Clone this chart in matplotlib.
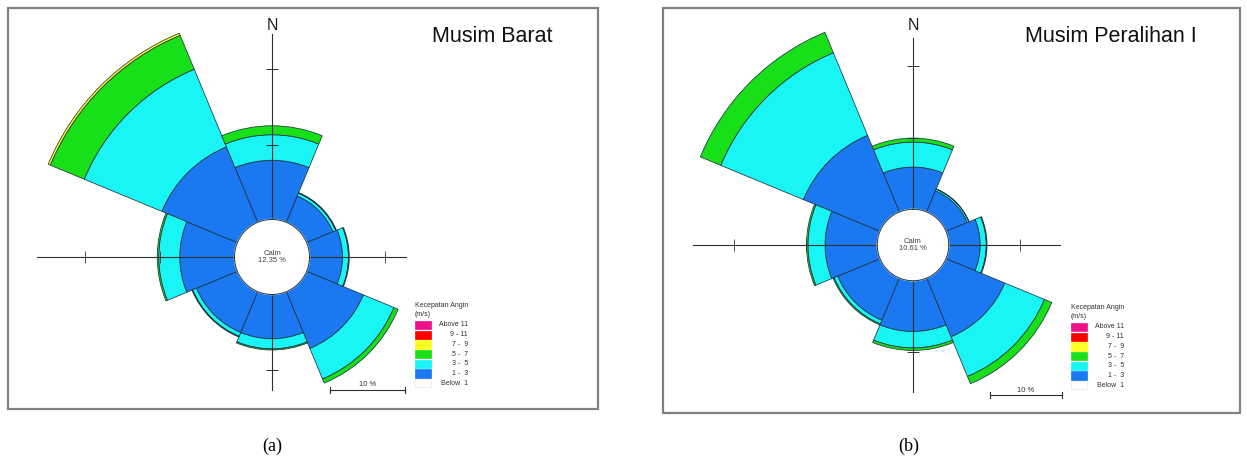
import numpy as np
import matplotlib
matplotlib.use("Agg")
import matplotlib.pyplot as plt
from matplotlib.patches import Rectangle
from matplotlib.lines import Line2D

W, H, DPI = 1247, 459, 100

directions = ["N", "NE", "E", "SE", "S", "SW", "W", "NW"]
legend_title = "Kecepatan Angin\n(m/s)"
legend_labels = ["Above 11", "9 - 11", "7 -  9", "5 -  7", "3 -  5", "1 -  3", "Below  1"]
legend_colors = ["#ee1289", "#ff0000", "#ffff22", "#18e018", "#19f5f5", "#1a78f0", "#ffffff"]

# Frequency (%) per direction for each wind-speed class, Musim Barat
barat_1_3 = [7.9, 3.8, 4.4, 8.2, 5.9, 5.9, 7.3, 10.9]
barat_3_5 = [3.4, 0.4, 0.8, 4.4, 1.35, 0.55, 2.8, 11.2]
barat_5_7 = [1.2, 0.1, 0.1, 0.6, 0.15, 0.1, 0.2, 4.9]
barat_7_9 = [0, 0, 0, 0, 0, 0, 0, 0.3]
barat_calm = 12.35

# Frequency (%) per direction for each wind-speed class, Musim Peralihan I
peralihan_1_3 = [5.9, 3.2, 4.4, 8.9, 7.1, 6.4, 7.3, 11.6]
peralihan_3_5 = [3.5, 0.25, 0.85, 6.0, 2.3, 0.55, 2.4, 12.5]
peralihan_5_7 = [0.55, 0.05, 0.1, 1.1, 0.35, 0.15, 0.2, 3.1]
peralihan_7_9 = [0, 0, 0, 0, 0, 0, 0, 0]
peralihan_calm = 10.61

CALM_RADIUS = 5.0          # radius of the calm circle, in % units
RMAX = 34.0
EDGE = "#1e3340"
SEG_COLORS = ["#1a78f0", "#19f5f5", "#18e018", "#ffff22"]

fig = plt.figure(figsize=(W / DPI, H / DPI), dpi=DPI)


def fx(x):
    return x / W


def fy(y):
    return 1 - y / H


def draw_panel(cx, cy, scale, classes, calm, title, title_x, axis_len, frame,
               legend_xy, bar_xy, label, label_x):
    # Frame around the panel
    x0, y0, x1, y1 = frame
    fig.add_artist(Rectangle((fx(x0), fy(y1)), fx(x1 - x0), (y1 - y0) / H,
                             transform=fig.transFigure, fill=False,
                             edgecolor="#808080", lw=1.6))

    half = RMAX * scale
    ax = fig.add_axes([fx(cx - half), fy(cy + half), 2 * half / W, 2 * half / H],
                      projection="polar")
    ax.set_theta_zero_location("N")
    ax.set_theta_direction(-1)
    ax.set_ylim(0, RMAX)
    ax.set_axis_off()

    theta = np.deg2rad(np.arange(len(directions)) * 45.0)
    width = np.deg2rad(45.0)
    base = np.full(len(directions), CALM_RADIUS)
    for vals, col in zip(classes, SEG_COLORS):
        vals = np.asarray(vals, dtype=float)
        m = vals > 0
        ax.bar(theta[m], vals[m], width=width, bottom=base[m], color=col,
               edgecolor=EDGE, linewidth=0.55, zorder=2)
        base = base + vals

    # Compass axes with ticks every 10 % beyond the calm circle
    for ang, length in zip([0, 90, 180, 270], axis_len):
        a = np.deg2rad(ang)
        ax.plot([a, a], [0, length], color="#303030", lw=0.8, zorder=3)
        mk = "_" if ang in (0, 180) else "|"
        for t in (CALM_RADIUS + 10, CALM_RADIUS + 20):
            if t < length:
                ax.plot([a], [t], marker=mk, ms=8, mew=0.6, color="#303030",
                        zorder=3)

    th = np.linspace(0, 2 * np.pi, 361)
    ax.fill(th, np.full_like(th, CALM_RADIUS), color="white", zorder=4)
    ax.plot(th, np.full_like(th, CALM_RADIUS), color=EDGE, lw=0.7, zorder=5)
    ax.text(0, 0, f"Calm\n{calm:.2f} %", ha="center", va="center",
            fontsize=5.5, color="#404040", family="Liberation Sans",
            linespacing=1.0, zorder=6)

    fig.text(fx(cx), fy(25), "N", ha="center", va="center",
             fontsize=11.5, family="Liberation Sans", color="#202020")
    fig.text(fx(title_x), fy(37), title, ha="left", va="center",
             fontsize=15.5, family="Liberation Sans", color="#111111")

    # Speed legend
    lx, ly = legend_xy
    fig.text(fx(lx), fy(ly), legend_title, ha="left", va="top", fontsize=5,
             family="Liberation Sans", color="#303030", linespacing=1.35)
    for i, (lab, col) in enumerate(zip(legend_labels, legend_colors)):
        yc = ly + 23 + i * 9.7
        fig.add_artist(Rectangle((fx(lx), fy(yc + 4.2)), 16 / W, 8.4 / H,
                                 transform=fig.transFigure, facecolor=col,
                                 edgecolor="#e8e8e8" if col == "#ffffff" else col,
                                 lw=0.5))
        fig.text(fx(lx + 53), fy(yc), lab, ha="right", va="center",
                 fontsize=5, family="Liberation Sans", color="#303030")

    # 10 % scale bar
    bx, by = bar_xy
    blen = 10 * scale
    kw = dict(transform=fig.transFigure, color="#303030", lw=0.8)
    fig.add_artist(Line2D([fx(bx), fx(bx + blen)], [fy(by), fy(by)], **kw))
    for xe in (bx, bx + blen):
        fig.add_artist(Line2D([fx(xe), fx(xe)], [fy(by - 3), fy(by + 3)], **kw))
    fig.text(fx(bx + blen / 2), fy(by - 5), "10 %", ha="center", va="center",
             fontsize=5.5, family="Liberation Sans", color="#303030")

    fig.text(fx(label_x), fy(446), label, ha="center", va="center",
             fontsize=13, family="Liberation Serif", color="black")


draw_panel(272, 257, 7.5,
           [barat_1_3, barat_3_5, barat_5_7, barat_7_9], barat_calm,
           "Musim Barat", 432, [29.7, 17.9, 17.7, 31.3],
           (8, 8, 598, 409), (415, 302), (330, 390), "(a)", 272)

draw_panel(913, 245, 7.15,
           [peralihan_1_3, peralihan_3_5, peralihan_5_7, peralihan_7_9],
           peralihan_calm,
           "Musim Peralihan I", 1025, [29.0, 20.6, 20.5, 30.7],
           (663, 8, 1240, 413), (1071, 304), (990, 395), "(b)", 909)

fig.savefig("out.png", dpi=DPI)
